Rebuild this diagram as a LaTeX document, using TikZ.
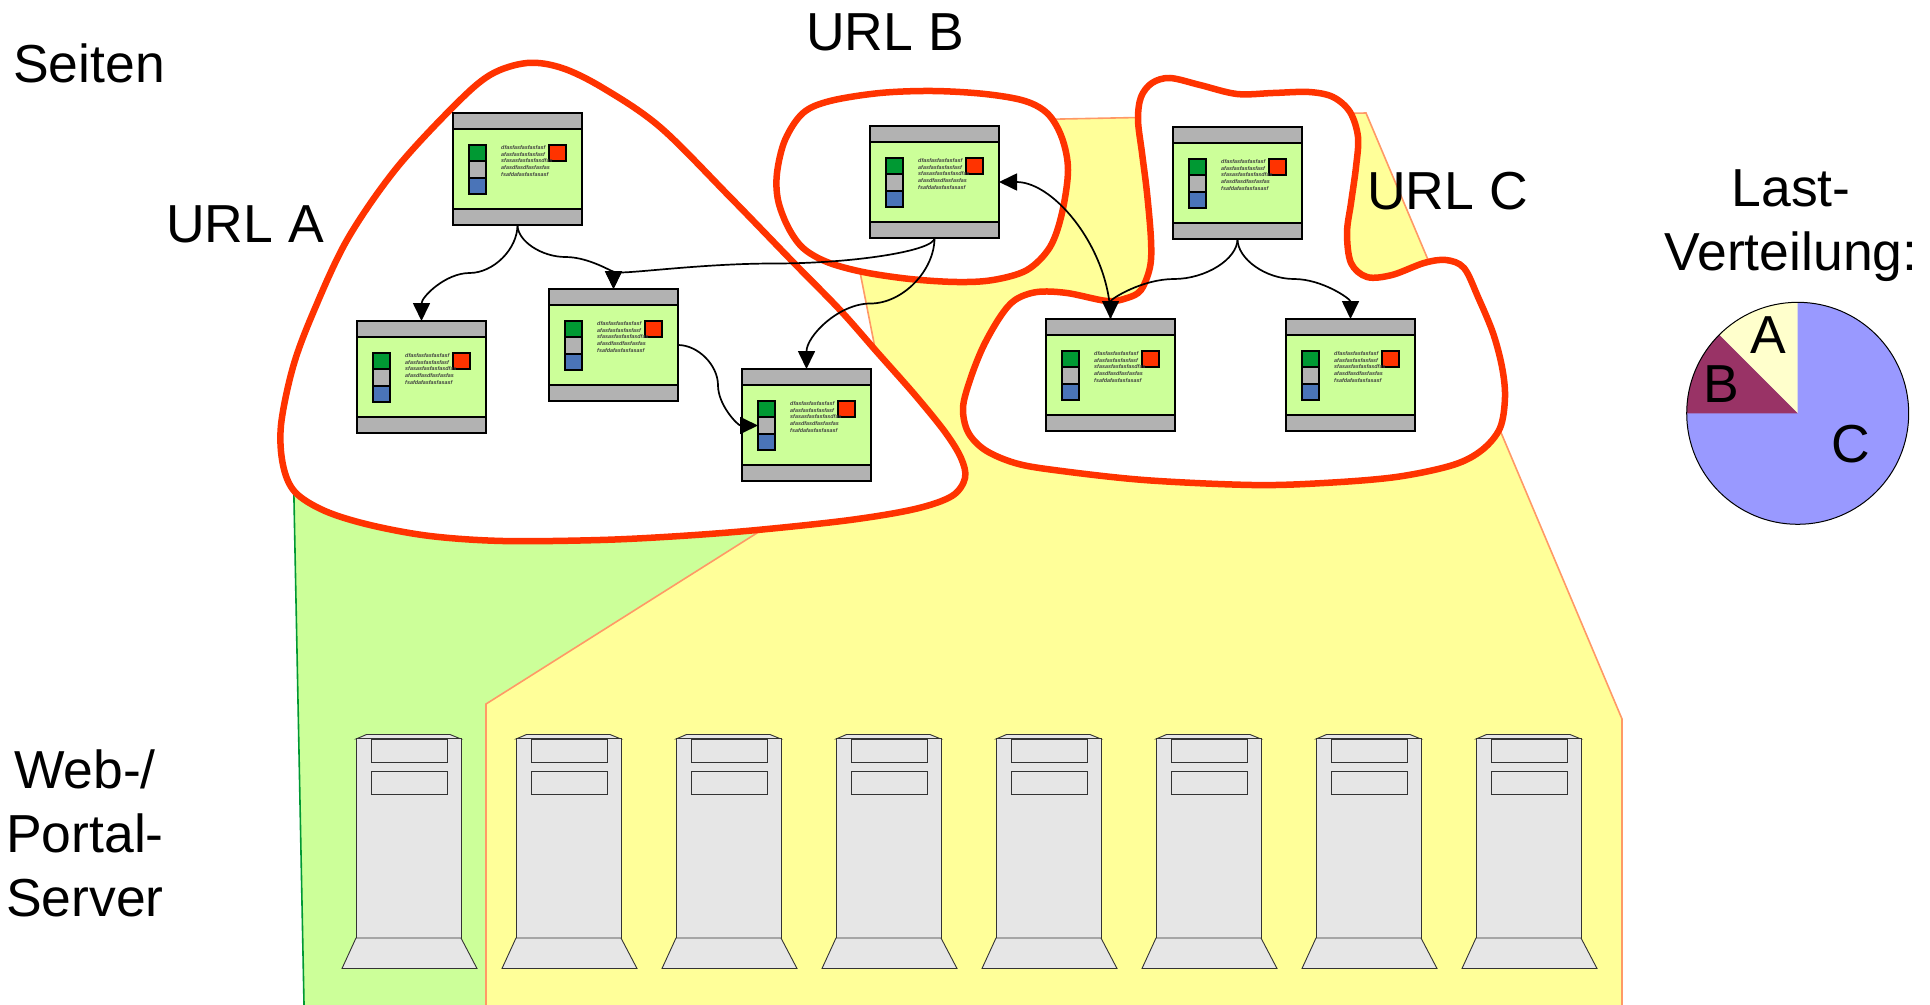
\documentclass[tikz,border=0pt]{standalone}
\usepackage{fontspec}
\setmainfont{Liberation Sans}
\usetikzlibrary{calc,arrows.meta}
\definecolor{pgreen}{HTML}{CCFF99}
\definecolor{pgray}{HTML}{B2B2B2}
\definecolor{sgreen}{HTML}{009933}
\definecolor{sblue}{HTML}{4A74B8}
\definecolor{sred}{HTML}{FF3300}
\definecolor{yfill}{HTML}{FFFF99}
\definecolor{yedge}{HTML}{FF9966}
\definecolor{srv}{HTML}{E6E6E6}
\definecolor{pieA}{HTML}{FFFFCC}
\definecolor{pieB}{HTML}{993366}
\definecolor{pieC}{HTML}{9999FF}
\tikzset{
  pagebody/.style={draw=black,line width=1.7pt,fill=pgreen,minimum width=129pt,minimum height=112pt,inner sep=0pt,outer sep=0pt,anchor=north west},
  pagepart/.style={draw=black,line width=1.7pt},
  tiny/.style={font=\fontsize{5.4}{6}\selectfont\itshape\bfseries,text=black!75,anchor=west,inner sep=0pt},
  conn/.style={draw=black,line width=1.7pt,-{Triangle[length=18pt,width=17pt]}},
  blob/.style={draw=sred,line width=6.5pt,fill=white},
  srvpart/.style={draw=black!80,line width=0.9pt,fill=srv},
  lab/.style={font=\fontsize{53.5}{64}\selectfont,inner sep=0pt,anchor=base west},
  multilab/.style={font=\fontsize{53.5}{64}\selectfont,align=center,inner sep=0pt,anchor=center}
}
\newcommand\WebPage[3]{%
  \begin{scope}[shift={(#2,#3)}]
    \node[pagebody] (#1) at (0,0) {};
    \draw[pagepart,fill=pgray] (0,0) rectangle (129,16);
    \draw[pagepart,fill=pgray] (0,96) rectangle (129,112);
    \draw[pagepart,fill=sgreen] (16,32) rectangle (33,48);
    \draw[pagepart,fill=pgray] (16,48) rectangle (33,65);
    \draw[pagepart,fill=sblue] (16,65) rectangle (33,81);
    \draw[pagepart,fill=sred] (96,32) rectangle (113,48);
    \coordinate (#1-gray) at (16,56.5);
    \node[tiny] (#1-t1) at (48,35) {dfasfasfasfasfasf};
    \node[tiny] (#1-t2) at (48,42) {afasfasfasfasfasf};
    \node[tiny] (#1-t3) at (48,48) {sfasasfasfasfasdfas};
    \node[tiny] (#1-t4) at (48,55) {afasdfasdfasfasfas};
    \node[tiny] (#1-t5) at (48,61.5) {fsafdafasfasfasasf};
  \end{scope}}
\newcommand\ServerBox[1]{%
  \begin{scope}[shift={(#1,0)}]
    \draw[srvpart] (356,739) -- (366.5,734.5) -- (450,734.5) -- (461,739) -- cycle;
    \draw[srvpart] (356,738.5) rectangle (461,938);
    \draw[srvpart] (371,739) rectangle (447.5,762.5);
    \draw[srvpart] (371.5,771) rectangle (447.5,794.5);
    \draw[srvpart] (356,938) -- (461,938) -- (477,968.5) -- (342,968.5) -- cycle;
  \end{scope}}
\newcommand\vconn[2]{\draw[conn] let \p1=(#1),\p2=(#2) in (\p1) .. controls (\x1,{\y1+.25*(\y2-\y1)}) and ({\x1+.25*(\x2-\x1)},{\y1+.5*(\y2-\y1)}) .. ({\x1+.5*(\x2-\x1)},{\y1+.5*(\y2-\y1)}) .. controls ({\x1+.75*(\x2-\x1)},{\y1+.5*(\y2-\y1)}) and (\x2,{\y1+.75*(\y2-\y1)}) .. (\p2);}
\newcommand\hconn[2]{\draw[conn] let \p1=(#1),\p2=(#2) in (\p1) .. controls ({\x1+.25*(\x2-\x1)},\y1) and ({\x1+.5*(\x2-\x1)},{\y1+.25*(\y2-\y1)}) .. ({\x1+.5*(\x2-\x1)},{\y1+.5*(\y2-\y1)}) .. controls ({\x1+.5*(\x2-\x1)},{\y1+.75*(\y2-\y1)}) and ({\x1+.75*(\x2-\x1)},\y2) .. (\p2);}
\begin{document}
\begin{tikzpicture}[x=1pt,y=-1pt]
\useasboundingbox[fill=white] (0,0) rectangle (1930,1004);
% coloured server groups
\draw[draw=sgreen,line width=1.6pt,fill=pgreen] (293.2,460) -- (304.2,1014) -- (600,1014) -- (600,900) -- (820,600) -- (820,460) -- cycle;
\draw[draw=yedge,line width=1.6pt,fill=yfill] (486,1014) -- (486,704) -- (757,533) -- (900,443) -- (875,348) -- (861,277) -- (845,190) -- (860,123) -- (1366,113) -- (1622,719) -- (1622,1014) -- cycle;
\foreach \i in {0,...,7} {\ServerBox{\i*160}}
% URL groups
\draw[blob] plot[smooth cycle,tension=0.55] coordinates {(527,63) (562,68) (603,88) (660,127) (730,197) (793,262) (840,310) (877,352) (915,395) (945,432) (961,458) (965,478) (952,496) (915,509) (850,520) (757,530) (680,536) (600,540) (503,541) (430,536) (370,525) (325,511) (295,492) (283,465) (281,425) (293,367) (313,313) (347,240) (395,170) (453,107) (490,75)};
\draw[blob] plot[smooth cycle,tension=0.55] coordinates {(933,91) (985,94) (1025,101) (1048,114) (1062,138) (1068,170) (1062,213) (1050,247) (1027,270) (993,280) (957,282) (910,279) (863,272) (827,262) (803,248) (788,227) (778,200) (777,173) (785,140) (803,113) (830,101) (880,93)};
\draw[blob] plot[smooth cycle,tension=0.55] coordinates {(1170,78) (1200,85) (1237,94) (1273,93) (1309,92) (1333,97) (1350,112) (1358,137) (1356,167) (1351,203) (1347,233) (1351,263) (1367,277) (1392,275) (1424,263) (1446,260) (1464,268) (1478,297) (1493,333) (1502,367) (1505,397) (1500,428) (1482,450) (1453,465) (1396,477) (1324,483) (1252,485) (1144,480) (1054,470) (1015,463) (985,450) (968,432) (963,408) (970,380) (983,347) (1000,317) (1015,300) (1037,292) (1067,293) (1107,301) (1127,298) (1141,290) (1150,267) (1151,240) (1147,193) (1142,153) (1138,120) (1141,97) (1152,83)};
% pages
\WebPage{pa}{453}{113}
\WebPage{pb}{357}{321}
\WebPage{pc}{549}{289}
\WebPage{pd}{742}{369}
\WebPage{pe}{870}{126}
\WebPage{pf}{1173}{127}
\WebPage{pg}{1046}{319}
\WebPage{ph}{1286}{319}
% connectors
\vconn{pa.south}{pb.north}
\vconn{pa.south}{pc.north}
\vconn{pe.south}{pc.north}
\vconn{pe.south}{pd.north}
\hconn{pc.east}{pd-gray}
\vconn{pf.south}{pg.north}
\vconn{pf.south}{ph.north}
\draw[conn] (pg.north) .. controls +(0,-68) and ($(pe.east)+(56,0)$) .. (pe.east);
% labels
\node[lab] (seiten) at (13,82) {Seiten};
\node[lab] (urla) at (166,242) {URL A};
\node[lab] (urlb) at (806,50) {URL B};
\node[lab] (urlc) at (1367,209) {URL C};
\node[multilab] (web) at (85,833) {Web-/\\Portal-\\Server};
\node[multilab] (last) at (1791,226) {Last-\\Verteilung:};
% pie
\coordinate (pie) at (1797.7,413.3);
\fill[pieC] (pie) circle[radius=111];
\fill[pieA] (pie) -- ++(0,-111) arc[start angle=-90,end angle=-135,radius=111] -- cycle;
\fill[pieB] (pie) -- ++(-78.5,-78.5) arc[start angle=-135,end angle=-180,radius=111] -- cycle;
\draw[black,line width=1pt] (pie) circle[radius=111];
\node[lab] (pa-l) at (1750,353) {A};
\node[lab] (pb-l) at (1703,402) {B};
\node[lab] (pc-l) at (1831,462) {C};
\end{tikzpicture}
\end{document}
